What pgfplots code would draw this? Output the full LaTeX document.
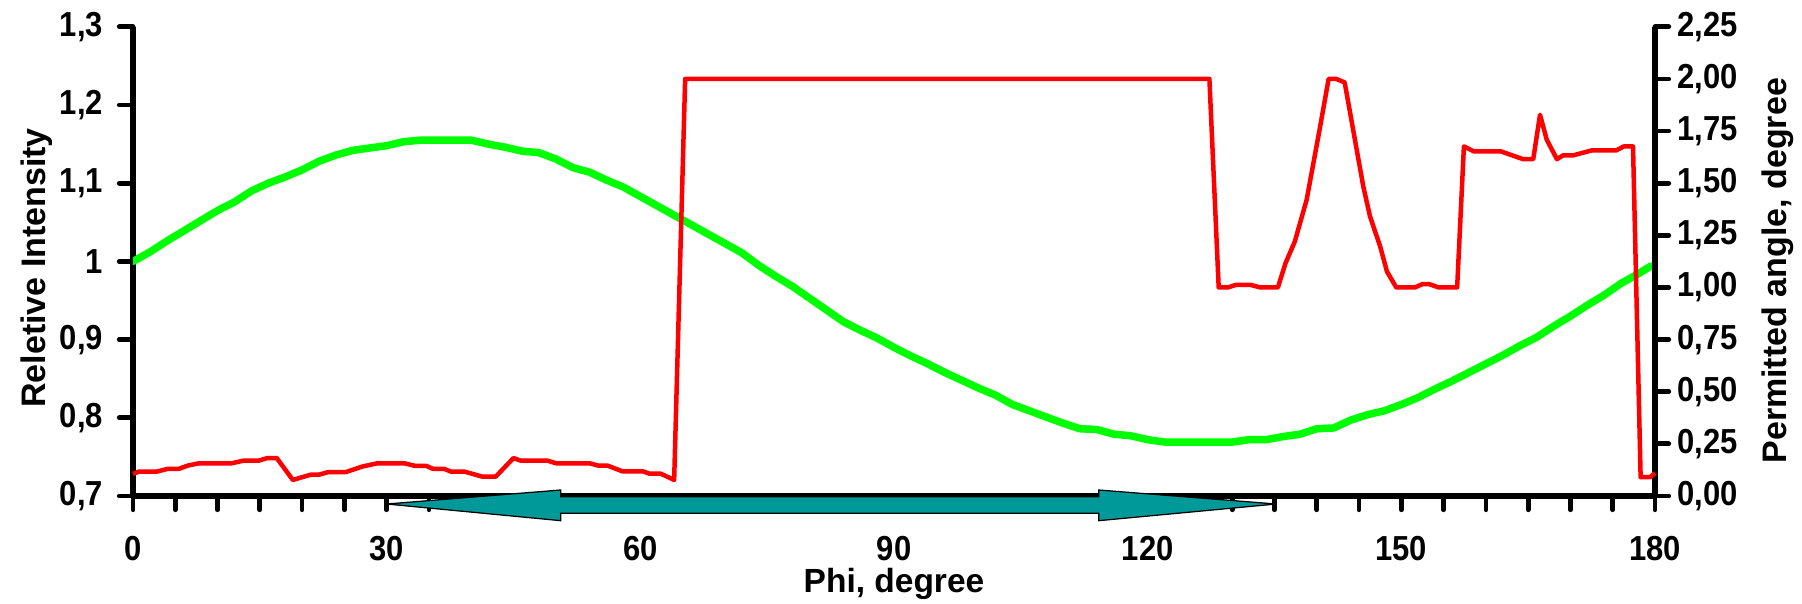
\documentclass[border=0pt]{standalone}
\usepackage{fontspec}
\setmainfont{Liberation Sans}
\usepackage{pgfplots}
\usepackage{pgfplotstable}
\pgfplotsset{compat=1.18}
\definecolor{lgreen}{RGB}{0,255,0}
\definecolor{lred}{RGB}{255,0,0}
\definecolor{tealA}{RGB}{0,153,153}

\pgfplotstableread{
x y
0 1.000
2 1.012
4 1.026
6 1.039
8 1.052
10 1.065
12 1.076
14 1.090
16 1.100
18 1.108
20 1.117
22 1.128
24 1.136
26 1.142
28 1.145
30 1.148
32 1.153
34 1.155
36 1.155
38 1.155
40 1.155
42 1.150
44 1.146
46 1.141
48 1.139
50 1.131
52 1.120
54 1.114
56 1.104
58 1.095
60 1.083
62 1.071
64 1.059
66 1.047
68 1.035
70 1.023
72 1.011
74 0.995
76 0.981
78 0.968
80 0.953
82 0.938
84 0.923
86 0.912
88 0.902
90 0.890
92 0.879
94 0.869
96 0.858
98 0.848
100 0.838
102 0.829
104 0.817
106 0.809
108 0.801
110 0.793
112 0.786
114 0.785
116 0.779
118 0.777
120 0.772
122 0.769
124 0.769
126 0.769
128 0.769
130 0.769
132 0.772
134 0.772
136 0.776
138 0.779
140 0.786
142 0.787
144 0.797
146 0.804
148 0.809
150 0.817
152 0.826
154 0.837
156 0.847
158 0.858
160 0.869
162 0.880
164 0.892
166 0.903
168 0.917
170 0.930
172 0.944
174 0.957
176 0.972
178 0.984
179.5 0.994
}\greendata

\pgfplotstableread{
x y
0 0.106
0.7 0.117
2.8 0.117
4.1 0.130
5.4 0.130
6.5 0.146
7.8 0.157
11.7 0.157
13.1 0.170
14.9 0.170
15.9 0.182
17.0 0.182
18.9 0.077
21.0 0.102
22.0 0.102
23.1 0.115
25.2 0.115
27.1 0.141
28.9 0.157
32.1 0.157
33.4 0.144
34.7 0.144
35.5 0.130
36.8 0.130
37.6 0.117
39.2 0.117
41.3 0.093
42.9 0.093
45.0 0.182
45.8 0.170
49.0 0.170
50.0 0.157
54.0 0.157
55.0 0.146
56.1 0.146
57.9 0.118
60.3 0.118
61.1 0.107
62.4 0.107
64.0 0.077
65.3 2.000
127.3 2.000
128.4 1.000
129.5 1.000
130.4 1.012
132.2 1.012
133.3 1.000
135.4 1.000
136.3 1.116
137.4 1.220
138.8 1.420
140.4 1.772
141.4 2.000
142.3 2.000
143.3 1.983
145.5 1.484
146.3 1.340
147.5 1.196
148.3 1.076
149.4 1.000
151.6 1.000
152.5 1.016
153.3 1.016
154.4 1.000
156.6 1.000
157.4 1.676
158.6 1.652
161.8 1.652
164.4 1.615
165.6 1.615
166.4 1.828
167.2 1.708
168.4 1.615
169.1 1.633
170.3 1.633
172.5 1.657
175.4 1.657
176.3 1.676
177.4 1.676
178.3 0.090
179.4 0.090
180 0.110
}\reddata

\begin{document}
\begin{tikzpicture}
\path[use as bounding box] (-53.2pt,-42.8pt) rectangle (667.6pt,198.4pt);
\pgfplotsset{
  common/.style={
    at={(0pt,0pt)}, anchor=south west,
    scale only axis, width=608.8pt, height=187.7pt,
    xmin=0, xmax=180,
    tick align=outside,
    major tick length=5.5pt, minor tick length=5.5pt,
    every tick/.style={line width=1.9pt, black, line cap=round},
    x axis line style={-, line width=2.2pt},
    y axis line style={-, line width=2.2pt},
    tick label style={font=\fontsize{12.4}{14}\selectfont\bfseries, yscale=1.12},
    /pgf/number format/assume math mode=true,
  }
}
\begin{axis}[
  common,
  ymin=0.7, ymax=1.3,
  axis x line*=bottom, axis y line*=left,
  xtick={0,30,60,90,120,150,180},
  minor xtick={5,10,15,20,25,35,40,45,50,55,65,70,75,80,85,95,100,105,110,115,125,130,135,140,145,155,160,165,170,175},
  ytick={0.7,0.8,0.9,1,1.1,1.2,1.3},
  yticklabel style={/pgf/number format/.cd, fixed, precision=1, use comma, /tikz/.cd, xshift=-3pt},
  xticklabel style={anchor=north, yshift=-6pt},
  xlabel={Phi, degree},
  ylabel={Reletive Intensity},
  every axis x label/.style={at={(axis description cs:0.5,-0.2053)}, anchor=base, font=\fontsize{13.4}{16}\selectfont\bfseries},
  every axis y label/.style={at={(axis description cs:-0.0633,0.486)}, rotate=90, anchor=center, font=\fontsize{13.6}{16}\selectfont\bfseries},
]
\addplot[lgreen, line width=3pt, line join=round, line cap=round] table[x=x,y=y]{\greendata};
\end{axis}
\begin{axis}[
  common,
  ymin=0, ymax=2.25,
  clip=false,
  axis x line=none, axis y line*=right,
  xtick=\empty,
  ytick={0,0.25,0.5,0.75,1,1.25,1.5,1.75,2,2.25},
  yticklabel style={/pgf/number format/.cd, fixed, fixed zerofill, precision=2, use comma},
  ylabel={Permitted angle, degree},
  every axis y label/.style={at={(axis description cs:1.0808,0.48)}, rotate=90, anchor=center, font=\fontsize{13.6}{16}\selectfont\bfseries},
]
\addplot[lred, line width=1.8pt, line join=round] table[x=x,y=y]{\reddata};
\filldraw[fill=tealA, draw=black, line width=0.5pt]
  (axis cs:30,-0.0384) -- (axis cs:50.6,0.0288) -- (axis cs:50.6,-0.0034)
  -- (axis cs:114.2,-0.0034) -- (axis cs:114.2,0.0288) -- (axis cs:135.2,-0.0384)
  -- (axis cs:114.2,-0.1184) -- (axis cs:114.2,-0.083) -- (axis cs:50.6,-0.083)
  -- (axis cs:50.6,-0.1184) -- cycle;
\end{axis}
\end{tikzpicture}
\end{document}
